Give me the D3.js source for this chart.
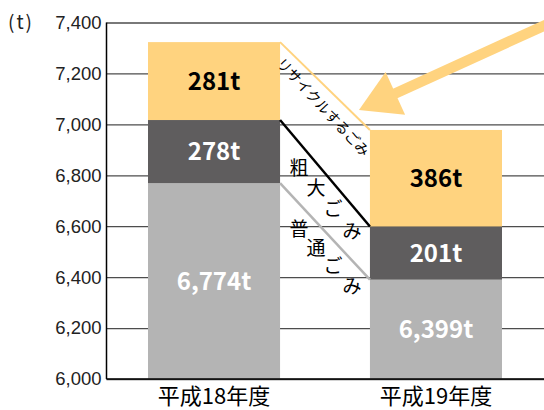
<html>
  <head>
    <meta charset="utf-8" />
    <script src="https://cdnjs.cloudflare.com/ajax/libs/d3/7.8.5/d3.min.js"></script>
    <style>
      body { margin: 0; background: #fff; }
      svg { display: block; font-family: "Noto Sans CJK JP", "Noto Sans", sans-serif; }
      .grid line { stroke: #4d4d4d; stroke-width: 1.3; }
      .grid path.domain { display: none; }
      .grid text { font-size: 18.5px; fill: #222; }
    </style>
  </head>
  <body>
    <svg width="544" height="410"></svg>
  </body>

  <script>
    // years on the x axis
    const categories = ["平成18年度", "平成19年度"];
    // segment heights as drawn in the chart (t)
    const general = [6769, 6390];
    const bulky = [248, 209];
    const recycle = [306, 379];
    // printed labels
    const generalLabels = ["6,774t", "6,399t"];
    const bulkyLabels = ["278t", "201t"];
    const recycleLabels = ["281t", "386t"];
    const yTicks = [6000, 6200, 6400, 6600, 6800, 7000, 7200, 7400];

    const svg = d3.select("svg");
    const mLeft = 106.5, mRight = 543.5, mTop = 22.5, mBottom = 379;

    const x = d3.scaleBand().domain(categories).range([mLeft, mRight])
      .paddingInner(0.405).paddingOuter(0.187);
    const y = d3.scaleLinear().domain([6000, 7400]).range([mBottom, mTop]);

    const yAxis = d3.axisLeft(y).tickValues(yTicks).tickSize(-(544 - mLeft))
      .tickPadding(5).tickFormat(d3.format(","));
    svg.append("g").attr("class", "grid")
      .attr("transform", `translate(${mLeft},0)`).call(yAxis);

    // stacked segments
    const segs = [];
    categories.forEach((c, i) => {
      const t1 = general[i], t2 = t1 + bulky[i], t3 = t2 + recycle[i];
      segs.push({ c, y0: 6000, y1: t1, fill: "#b4b4b4", label: generalLabels[i], color: "#fff" });
      segs.push({ c, y0: t1, y1: t2, fill: "#5f5d5e", label: bulkyLabels[i], color: "#fff" });
      segs.push({ c, y0: t2, y1: t3, fill: "#ffd37f", label: recycleLabels[i], color: "#000" });
    });

    svg.selectAll("rect.seg").data(segs).enter().append("rect")
      .attr("class", "seg")
      .attr("x", (d) => x(d.c))
      .attr("width", x.bandwidth())
      .attr("y", (d) => y(d.y1))
      .attr("height", (d) => y(d.y0) - y(d.y1))
      .attr("fill", (d) => d.fill);

    svg.selectAll("text.val").data(segs).enter().append("text")
      .attr("class", "val")
      .attr("x", (d) => x(d.c) + x.bandwidth() / 2)
      .attr("y", (d) => (y(d.y0) + y(d.y1)) / 2)
      .attr("dy", "0.36em")
      .attr("text-anchor", "middle")
      .attr("font-size", 24)
      .attr("font-weight", 700)
      .attr("fill", (d) => d.color)
      .text((d) => d.label);

    // axis lines
    svg.append("line").attr("x1", mLeft).attr("x2", mLeft).attr("y1", mTop).attr("y2", mBottom)
      .attr("stroke", "#000").attr("stroke-width", 1.5);
    svg.append("line").attr("x1", mLeft).attr("x2", 544).attr("y1", mBottom).attr("y2", mBottom)
      .attr("stroke", "#000").attr("stroke-width", 1.5);

    // connectors between the bars
    const x1 = x(categories[0]) + x.bandwidth(), x2 = x(categories[1]);
    const tops = (i) => [general[i], general[i] + bulky[i], general[i] + bulky[i] + recycle[i]];
    const conn = [
      { a: tops(0)[0], b: tops(1)[0], color: "#b4b4b4", w: 2.5 },
      { a: tops(0)[1], b: tops(1)[1], color: "#000", w: 2.5 },
      { a: tops(0)[2], b: tops(1)[2], color: "#ffd37f", w: 2 },
    ];
    svg.selectAll("line.conn").data(conn).enter().append("line")
      .attr("x1", x1).attr("x2", x2)
      .attr("y1", (d) => y(d.a)).attr("y2", (d) => y(d.b))
      .attr("stroke", (d) => d.color).attr("stroke-width", (d) => d.w);

    function along(c, f) {
      return [x1 + (x2 - x1) * f, y(c.a) + (y(c.b) - y(c.a)) * f];
    }

    // upright characters along the lines
    const fracs = [0.21, 0.4, 0.59, 0.8];
    [[conn[1], "粗大ごみ"], [conn[0], "普通ごみ"]].forEach(([c, s]) => {
      s.split("").forEach((ch, k) => {
        const p = along(c, fracs[k]);
        svg.append("text").attr("x", p[0]).attr("y", p[1] + 26)
          .attr("dy", "0.36em").attr("text-anchor", "middle")
          .attr("font-size", 19).attr("fill", "#000").text(ch);
      });
    });

    // rotated label under the recycle connector
    const pm = along(conn[2], 0.49);
    svg.append("text")
      .attr("transform", `translate(${pm[0] - 1},${pm[1] + 22}) rotate(47)`)
      .attr("text-anchor", "middle").attr("dy", "0.36em")
      .attr("font-size", 14.3).attr("fill", "#000")
      .text("リサイクルするごみ");

    // x labels
    svg.selectAll("text.cat").data(categories).enter().append("text")
      .attr("class", "cat")
      .attr("x", (d) => x(d) + x.bandwidth() / 2)
      .attr("y", 404)
      .attr("text-anchor", "middle")
      .attr("font-size", 22)
      .attr("fill", "#000")
      .text((d) => d);

    svg.append("text").attr("x", 8).attr("y", 29).attr("font-size", 19)
      .attr("letter-spacing", 2).attr("fill", "#222").text("(t)");

    // big arrow pointing at the 19 bar
    const tip = [x2 - 11, y(tops(1)[2]) - 20];
    const start = [552, 22];
    const dx = tip[0] - start[0], dy = tip[1] - start[1];
    const len = Math.hypot(dx, dy), ux = dx / len, uy = dy / len;
    const headL = 40, headW = 23.5;
    const base = [tip[0] - ux * headL, tip[1] - uy * headL];
    svg.append("line")
      .attr("x1", start[0]).attr("y1", start[1])
      .attr("x2", base[0] + ux * 2).attr("y2", base[1] + uy * 2)
      .attr("stroke", "#ffd37f").attr("stroke-width", 10.5);
    svg.append("polygon")
      .attr("points", [tip, [base[0] - uy * headW, base[1] + ux * headW], [base[0] + uy * headW, base[1] - ux * headW]]
        .map((p) => p.join(",")).join(" "))
      .attr("fill", "#ffd37f");
  </script>
</html>
